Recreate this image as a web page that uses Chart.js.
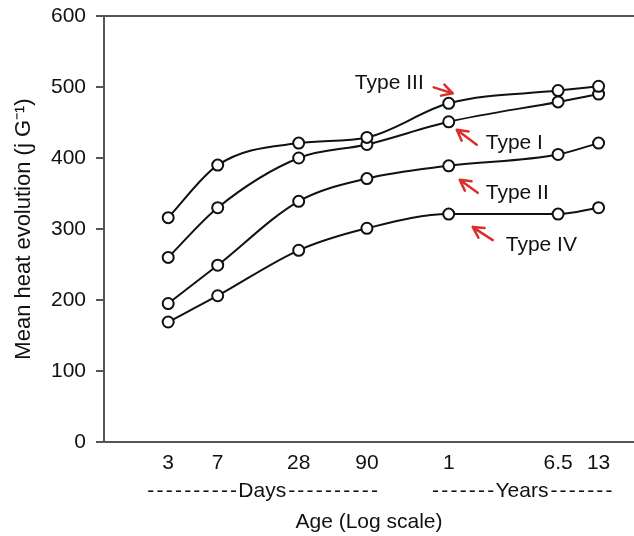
<!DOCTYPE html>
<html>
<head>
<meta charset="utf-8">
<script src="https://cdn.jsdelivr.net/npm/chart.js@4.4.0/dist/chart.umd.min.js"></script>
<style>
  html, body { margin: 0; padding: 0; background: #fff; }
</style>
</head>
<body>
<canvas id="grafico" width="634" height="536"></canvas>
<script>
// Idade em dias (escala log); anos convertidos para dias
const ageDays = [3, 7, 28, 90, 365, 6.5 * 365, 13 * 365];
const ageLabels = ['3', '7', '28', '90', '1', '6.5', '13'];

// Calor médio liberado (j/g) por tipo de cimento
const typeI   = [260, 330, 400, 419, 451, 479, 490];
const typeII  = [195, 249, 339, 371, 389, 405, 421];
const typeIII = [316, 390, 421, 429, 477, 495, 501];
const typeIV  = [169, 206, 270, 301, 321, 321, 330];

const seriesNames = ['Type III', 'Type I', 'Type II', 'Type IV'];
const seriesValues = [typeIII, typeI, typeII, typeIV];

const fonte = { family: '"Liberation Sans", Arial, sans-serif', size: 21 };
const corTexto = '#111';
const corEixo = '#555';
const corSeta = '#d9302c';

// Rótulos das curvas: deslocamento em px a partir do ponto de 1 ano
const rotulos = [
    { serie: 0, align: 'right', tx: -25, ty: -20, tip: [4, -10], tail: [-15, -16] },
    { serie: 1, align: 'left',  tx: 37,  ty: 21,  tip: [8, 8],   tail: [28, 23] },
    { serie: 2, align: 'left',  tx: 37,  ty: 27,  tip: [11, 14], tail: [29, 27] },
    { serie: 3, align: 'left',  tx: 57,  ty: 31,  tip: [24, 13], tail: [44, 26] }
];

// Grupos do eixo x (Dias / Anos)
const grupos = [
    { text: 'Days', at: 15, dashes: 10 },
    { text: 'Years', at: 3.5 * 365, dashes: 7 }
];

function seta(ctx, x0, y0, x1, y1) {
    const ang = Math.atan2(y1 - y0, x1 - x0);
    const len = 12;
    const abre = 0.5;
    ctx.beginPath();
    ctx.moveTo(x0, y0);
    ctx.lineTo(x1, y1);
    ctx.moveTo(x1, y1);
    ctx.lineTo(x1 - len * Math.cos(ang - abre), y1 - len * Math.sin(ang - abre));
    ctx.moveTo(x1, y1);
    ctx.lineTo(x1 - len * Math.cos(ang + abre), y1 - len * Math.sin(ang + abre));
    ctx.stroke();
}

const extras = {
    id: 'extras',
    afterDraw(chart) {
        const { ctx, chartArea } = chart;
        const xs = chart.scales.x;
        const ys = chart.scales.y;
        ctx.save();

        // Linha superior da moldura
        ctx.strokeStyle = corEixo;
        ctx.lineWidth = 2;
        ctx.beginPath();
        ctx.moveTo(chartArea.left, chartArea.top);
        ctx.lineTo(chart.width, chartArea.top);
        ctx.stroke();

        // Rótulos das curvas e setas
        ctx.font = fonte.size + 'px ' + fonte.family;
        ctx.textBaseline = 'middle';
        rotulos.forEach(r => {
            const px = xs.getPixelForValue(ageDays[4]);
            const py = ys.getPixelForValue(seriesValues[r.serie][4]);
            ctx.fillStyle = corTexto;
            ctx.textAlign = r.align;
            ctx.fillText(seriesNames[r.serie], px + r.tx, py + r.ty);
            ctx.strokeStyle = corSeta;
            ctx.lineWidth = 2.5;
            ctx.lineCap = 'round';
            seta(ctx, px + r.tail[0], py + r.tail[1], px + r.tip[0], py + r.tip[1]);
        });

        // Linha Dias / Anos
        const yGrupo = chartArea.bottom + 49;
        ctx.fillStyle = corTexto;
        grupos.forEach(g => {
            const cx = xs.getPixelForValue(g.at);
            const w = ctx.measureText(g.text).width;
            ctx.textAlign = 'center';
            ctx.fillText(g.text, cx, yGrupo);
            const tracos = '-'.repeat(g.dashes);
            ctx.letterSpacing = '2.2px';
            ctx.textAlign = 'right';
            ctx.fillText(tracos, cx - w / 2 + 1, yGrupo);
            ctx.textAlign = 'left';
            ctx.fillText(tracos, cx + w / 2 + 2, yGrupo);
            ctx.letterSpacing = '0px';
        });
        ctx.restore();
    }
};

const ctx = document.getElementById('grafico').getContext('2d');
const chartInstance = new Chart(ctx, {
    type: 'line',
    data: {
        datasets: seriesValues.map((vals, i) => ({
            label: seriesNames[i],
            data: ageDays.map((d, j) => ({ x: d, y: vals[j] })),
            borderColor: '#111',
            borderWidth: 2,
            fill: false,
            cubicInterpolationMode: 'monotone',
            pointRadius: 5.5,
            pointBorderWidth: 2,
            pointBackgroundColor: '#fff',
            pointBorderColor: '#111'
        }))
    },
    options: {
        responsive: false,
        animation: false,
        devicePixelRatio: 1,
        layout: { autoPadding: false, padding: { top: 16, left: 0, right: 0, bottom: 0 } },
        plugins: {
            legend: { display: false },
            tooltip: { enabled: false }
        },
        scales: {
            x: {
                type: 'logarithmic',
                position: 'bottom',
                min: 1,
                max: 8700,
                afterBuildTicks: s => { s.ticks = ageDays.map(v => ({ value: v })); },
                afterFit: s => {
                    s.height = 94;
                    s.paddingLeft = 0;
                    s.paddingRight = 0;
                },
                ticks: {
                    autoSkip: false,
                    maxRotation: 0,
                    padding: 9,
                    color: corTexto,
                    font: fonte,
                    callback: (v, i) => ageLabels[i]
                },
                grid: { display: false, drawTicks: false },
                border: { display: true, color: corEixo, width: 2 },
                title: {
                    display: true,
                    text: 'Age (Log scale)',
                    color: corTexto,
                    font: fonte,
                    padding: { top: 0, bottom: 1 }
                }
            },
            y: {
                min: 0,
                max: 600,
                afterFit: s => {
                    s.width = 104;
                    s.paddingTop = 0;
                    s.paddingBottom = 0;
                },
                ticks: { stepSize: 100, padding: 10, color: corTexto, font: fonte },
                grid: { drawOnChartArea: false, tickLength: 8, color: corEixo, lineWidth: 2 },
                border: { display: true, color: corEixo, width: 2 },
                title: {
                    display: true,
                    text: 'Mean heat evolution (j G\u207B\u00B9)',
                    color: corTexto,
                    font: { family: fonte.family, size: 22 },
                    padding: { top: 11, bottom: 0 }
                }
            }
        }
    },
    plugins: [extras]
});
</script>
</body>
</html>
